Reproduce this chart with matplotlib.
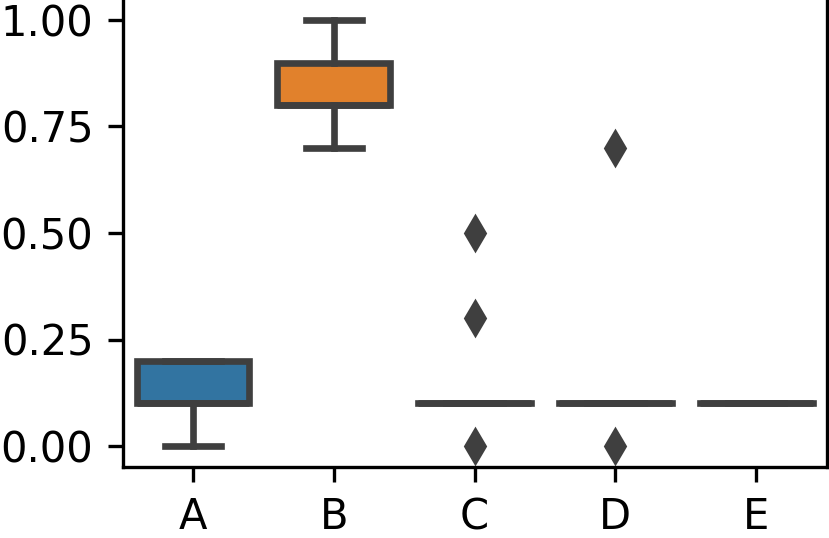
import matplotlib
matplotlib.use("Agg")
import matplotlib.pyplot as plt
from matplotlib.path import Path

categories = ["A", "B", "C", "D", "E"]
values_a = [0.0, 0.1, 0.1, 0.2, 0.2]
values_b = [0.7, 0.8, 0.8, 0.9, 1.0]
values_c = [0.0, 0.1, 0.1, 0.1, 0.1, 0.1, 0.1, 0.3, 0.5]
values_d = [0.0, 0.1, 0.1, 0.1, 0.1, 0.1, 0.7]
values_e = [0.1, 0.1, 0.1, 0.1, 0.1]
box_colors = ["#3274a1", "#e1812c", "#3a923a", "#c03d3e", "#9372b2"]
y_ticks = [0.0, 0.25, 0.5, 0.75, 1.0]

gray = "#3f3f3f"
lw = 1.6
data = [values_a, values_b, values_c, values_d, values_e]

W, H = 829, 538
fig = plt.figure(figsize=(W / 300, H / 300), dpi=300)
ax = fig.add_axes([122.6 / W, 70.7 / H, 704 / W, 468.6 / H])

bp = ax.boxplot(
    data,
    positions=range(len(categories)),
    widths=0.8,
    patch_artist=True,
    whis=1.5,
    boxprops=dict(edgecolor=gray, linewidth=lw),
    whiskerprops=dict(color=gray, linewidth=lw),
    capprops=dict(color=gray, linewidth=lw),
    medianprops=dict(color=gray, linewidth=lw),
    flierprops=dict(marker="d", markerfacecolor=gray, markeredgecolor=gray,
                    markersize=5.8, markeredgewidth=0.7, linestyle="none"),
)
for patch, c in zip(bp["boxes"], box_colors):
    patch.set_facecolor(c)
    # flat boxes (q1 == q3): draw as an open segment with square ends
    verts = patch.get_path().vertices
    if verts[:, 1].max() == verts[:, 1].min():
        x0, x1 = verts[:, 0].min(), verts[:, 0].max()
        y = verts[0, 1]
        patch.set_path(Path([(x0, y), (x1, y)], [Path.MOVETO, Path.LINETO]))
        patch.set_capstyle("projecting")

ax.set_xticks(range(len(categories)))
ax.set_xticklabels(categories)
ax.set_xlim(-0.5, len(categories) - 0.5)
ax.set_ylim(-0.05, 1.05)
ax.set_yticks(y_ticks)
ax.set_yticklabels([f"{t:.2f}" for t in y_ticks])

fig.savefig("out.png", dpi=300)
